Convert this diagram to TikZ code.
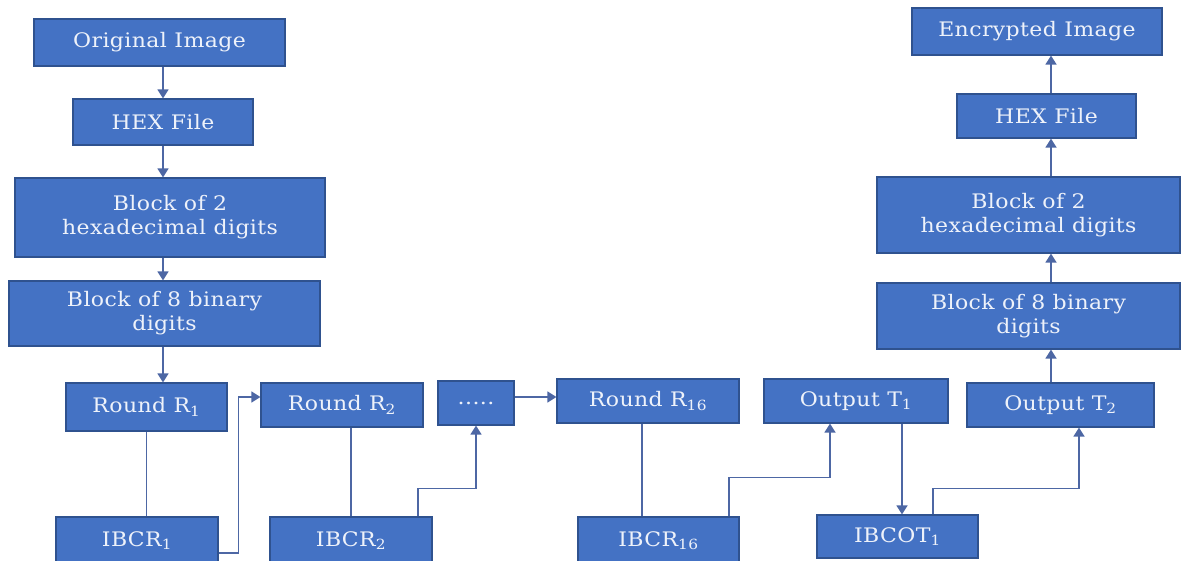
\documentclass[tikz,border=0pt]{standalone}
\usepackage{fontspec}
\setmainfont{DejaVu Serif}[FakeStretch=1.1,LetterSpace=2]
\usetikzlibrary{arrows.meta}
\definecolor{boxfill}{HTML}{4472C4}
\definecolor{boxline}{HTML}{2F528F}
\definecolor{wirecol}{HTML}{4D67A4}
\definecolor{labelcol}{HTML}{EEF2FA}
\tikzset{
  blk/.style={draw=boxline, line width=1.2pt, fill=boxfill, text=labelcol,
    inner sep=0pt, align=center, font=\fontsize{20}{24}\selectfont},
  link/.style={draw=wirecol, line width=1.6pt},
  arr/.style={link, -{Triangle[length=9pt,width=11pt]}}
}
\begin{document}
\begin{tikzpicture}[x=1pt,y=-1pt]
\useasboundingbox (0,0) rectangle (1181,561);

% encryption input chain
\node[blk, minimum width=251pt, minimum height=47pt] (orig)  at (159.5,42.5) {Original Image};
\node[blk, minimum width=180pt, minimum height=46pt] (hexa)  at (163,122)    {HEX File};
\node[blk, minimum width=310pt, minimum height=79pt] (blk2a) at (170,217.5)  {Block of 2\\hexadecimal digits};
\node[blk, minimum width=311pt, minimum height=65pt] (blk8a) at (164.5,313.5) {Block of 8 binary\\digits};

% rounds
\node[blk, minimum width=161pt, minimum height=48pt] (r1)   at (146.5,407) {Round R\textsubscript{1}};
\node[blk, minimum width=162pt, minimum height=44pt] (r2)   at (342,405)   {Round R\textsubscript{2}};
\node[blk, minimum width=76pt,  minimum height=44pt] (dots) at (476,403)   {.....};
\node[blk, minimum width=182pt, minimum height=44pt] (r16)  at (648,401)   {Round R\textsubscript{16}};
\node[blk, minimum width=184pt, minimum height=44pt] (t1)   at (856,401)   {Output T\textsubscript{1}};
\node[blk, minimum width=187pt, minimum height=44pt] (t2)   at (1060.5,405) {Output T\textsubscript{2}};

% intermediate blocks
\node[blk, minimum width=162pt, minimum height=47pt] (ibcr1)  at (137,540.5)   {IBCR\textsubscript{1}};
\node[blk, minimum width=162pt, minimum height=47pt] (ibcr2)  at (351,540.5)   {IBCR\textsubscript{2}};
\node[blk, minimum width=161pt, minimum height=47pt] (ibcr16) at (658.5,540.5) {IBCR\textsubscript{16}};
\node[blk, minimum width=161pt, minimum height=43pt] (ibcot1) at (897.5,536.5) {IBCOT\textsubscript{1}};

% output chain
\node[blk, minimum width=250pt, minimum height=47pt] (enc)   at (1037,31.5)   {Encrypted Image};
\node[blk, minimum width=179pt, minimum height=44pt] (hexb)  at (1046.5,116)  {HEX File};
\node[blk, minimum width=303pt, minimum height=76pt] (blk2b) at (1028.5,215)  {Block of 2\\hexadecimal digits};
\node[blk, minimum width=303pt, minimum height=66pt] (blk8b) at (1028.5,316)  {Block of 8 binary\\digits};

% left column arrows
\draw[arr] (hexa.north |- orig.south) -- (hexa.north);
\draw[arr] (hexa.south) -- (hexa.south |- blk2a.north);
\draw[arr] (hexa.south |- blk2a.south) -- (hexa.south |- blk8a.north);
\draw[arr] (hexa.south |- blk8a.south) -- (hexa.south |- r1.north);

% round to intermediate block links
\draw[link] (r1.south) -- (r1.south |- ibcr1.north);
\draw[link] (ibcr2.north) -- (ibcr2.north |- r2.south);
\draw[link] ([xshift=-6pt]r16.south) -- ([xshift=-6pt]r16.south |- ibcr16.north);

% feed-forward arrows
\draw[arr] ([yshift=-12.5pt]ibcr1.east) -| ([xshift=-22pt,yshift=8pt]r2.west) -- ([yshift=8pt]r2.west);
\draw[arr] ([xshift=67pt]ibcr2.north) |- ([yshift=-63pt]dots.south) -- (dots.south);
\draw[arr] ([yshift=6pt]dots.east) -- ([yshift=6pt]dots.east -| r16.west);
\draw[arr] ([xshift=70.5pt]ibcr16.north) |- ([xshift=-26pt,yshift=-54pt]t1.south) -- ([xshift=-26pt]t1.south);
\draw[arr] ([xshift=46pt]t1.south) -- ([xshift=46pt]t1.south |- ibcot1.north);
\draw[arr] ([xshift=35.5pt]ibcot1.north) |- ([xshift=18.5pt,yshift=-61pt]t2.south) -- ([xshift=18.5pt]t2.south);

% right column arrows
\coordinate (rc) at ([xshift=-9.5pt]t2.north);
\draw[arr] (rc) -- (rc |- blk8b.south);
\draw[arr] (rc |- blk8b.north) -- (rc |- blk2b.south);
\draw[arr] (rc |- blk2b.north) -- (rc |- hexb.south);
\draw[arr] (rc |- hexb.north) -- (rc |- enc.south);
\end{tikzpicture}
\end{document}
